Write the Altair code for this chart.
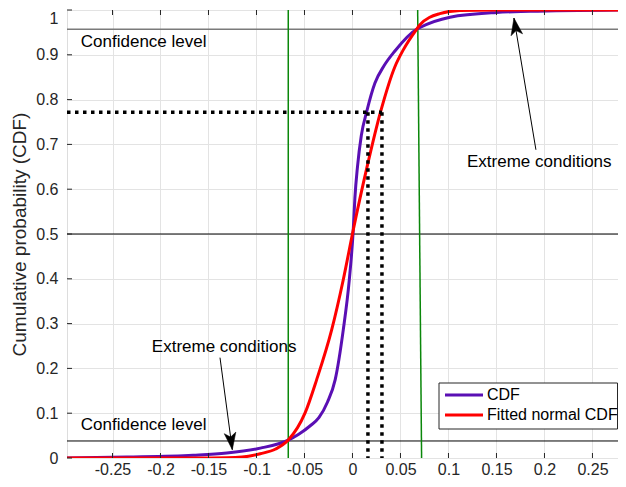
import altair as alt
import pandas as pd

# ---------------- data ----------------
X_DOMAIN = [-0.2974, 0.2766]
Y_DOMAIN = [0, 1]
x_ticks = [-0.25, -0.2, -0.15, -0.1, -0.05, 0, 0.05, 0.1, 0.15, 0.2, 0.25]
y_ticks = [0, 0.1, 0.2, 0.3, 0.4, 0.5, 0.6, 0.7, 0.8, 0.9, 1]

series_names = ["CDF", "Fitted normal CDF"]
series_colors = ["#5a0fb4", "#ff0000"]

cdf_x = [-0.2974, -0.235, -0.166, -0.131, -0.096, -0.0669, -0.056, -0.044, -0.035,
         -0.026, -0.018, -0.0096, -0.0033, 0.0008, 0.0025, 0.0052, 0.0092, 0.0148,
         0.0234, 0.033, 0.044, 0.0668, 0.0703, 0.1016, 0.150, 0.185, 0.2766]
cdf_y = [0.0, 0.002, 0.006, 0.011, 0.022, 0.040, 0.053, 0.072, 0.090,
         0.125, 0.175, 0.286, 0.398, 0.509, 0.580, 0.650, 0.720, 0.773,
         0.837, 0.876, 0.908, 0.957, 0.961, 0.984, 0.9946, 0.997, 1.0]

fit_x = [-0.2974, -0.16, -0.131, -0.115, -0.096, -0.08, -0.0669, -0.0495, -0.0373,
         -0.0217, -0.0096, 0.0008, 0.015, 0.0293, 0.0443, 0.0529, 0.0668, 0.0703,
         0.091, 0.112, 0.15, 0.2766]
fit_y = [0.0, 0.0, 0.0005, 0.002, 0.0096, 0.02, 0.040, 0.100, 0.175,
         0.286, 0.398, 0.509, 0.648, 0.773, 0.874, 0.911, 0.957, 0.967,
         0.992, 0.999, 1.0, 1.0]

conf_levels = [0.038]
conf_level_top = [0.957]
median_level = [0.5]
green_vertical_x = [-0.0669]
green_slant_x = [0.0679, 0.0720]
green_slant_y = [1.0, 0.0]
dotted_level = [0.772]
dotted_x = [0.0161, 0.0307]

ann_text = ["Confidence level", "Confidence level", "Extreme conditions", "Extreme conditions"]
ann_x = [-0.283, -0.283, 0.1193, -0.209]
ann_y = [0.929, 0.0733, 0.66, 0.2478]

arrow_x1 = [0.1911, -0.138]
arrow_y1 = [0.688, 0.224]
arrow_x2 = [0.1682, -0.1252]
arrow_y2 = [0.982, 0.0185]
arrow_angle = [350.3, 172.4]

# ---------------- chart ----------------
W, H = 551, 448
FONT = "Liberation Sans"
TXT = "#262626"

xs = alt.Scale(domain=X_DOMAIN, nice=False, zero=False)
ys = alt.Scale(domain=Y_DOMAIN, nice=False, zero=False)

x_axis = alt.Axis(values=x_ticks, labelExpr="'' + datum.value", grid=True, ticks=False,
                  domain=False, labelPadding=3, labelFontSize=16, labelColor=TXT,
                  labelFont=FONT, title=None, gridColor="#e3e3e3", labelFlush=False)
y_axis = alt.Axis(values=y_ticks, labelExpr="'' + datum.value", grid=True, ticks=False,
                  domain=False, labelPadding=9, labelFontSize=16, labelColor=TXT,
                  labelFont=FONT, gridColor="#e3e3e3", labelFlush=False,
                  labelBaseline={"condition": {"test": "datum.value >= 1", "value": "top"},
                                 "value": "middle"},
                  title="Cumulative probability (CDF)", titleFontSize=19,
                  titleFontWeight="normal", titleFont=FONT, titleColor=TXT,
                  titleX=-47.5, titleBaseline="middle")


def X(field):
    return alt.X(field, scale=xs, axis=x_axis)


def Y(field):
    return alt.Y(field, scale=ys, axis=y_axis)


curve_df = pd.DataFrame({
    "x": cdf_x + fit_x,
    "y": cdf_y + fit_y,
    "series": [series_names[0]] * len(cdf_x) + [series_names[1]] * len(fit_x),
})

curves = alt.Chart(curve_df).mark_line(strokeWidth=3, interpolate="monotone", clip=True).encode(
    x=X("x:Q"), y=Y("y:Q"),
    color=alt.Color("series:N", scale=alt.Scale(domain=series_names, range=series_colors), legend=None),
)

hrule_conf = alt.Chart(pd.DataFrame({"y": conf_levels})).mark_rule(color="#000000", strokeWidth=1).encode(
    y=Y("y:Q"))
hrule_conf_top = alt.Chart(pd.DataFrame({"y": conf_level_top})).mark_rule(color="#7a7a7a", strokeWidth=1.3).encode(
    y=Y("y:Q"))
hrule_med = alt.Chart(pd.DataFrame({"y": median_level})).mark_rule(color="#000000", strokeWidth=1).encode(
    y=Y("y:Q"))

green_v = alt.Chart(pd.DataFrame({"x": green_vertical_x})).mark_rule(color="#0a870a", strokeWidth=1.5).encode(
    x=X("x:Q"))
green_s = alt.Chart(pd.DataFrame({"x": green_slant_x, "y": green_slant_y})).mark_line(
    color="#0a870a", strokeWidth=1.5).encode(x=X("x:Q"), y=Y("y:Q"))

dot_h = alt.Chart(pd.DataFrame({"x1": [X_DOMAIN[0]], "x2": [dotted_x[1]], "y": dotted_level})).mark_rule(
    color="#000000", strokeWidth=3.5, strokeDash=[3.5, 4.5]).encode(
    x=X("x1:Q"), x2="x2:Q", y=Y("y:Q"))
dot_v = alt.Chart(pd.DataFrame({"x": dotted_x, "y1": [0.0, 0.0], "y2": dotted_level * 2})).mark_rule(
    color="#000000", strokeWidth=3.5, strokeDash=[3.5, 4.5]).encode(
    x=X("x:Q"), y=Y("y2:Q"), y2="y1:Q")

ann = alt.Chart(pd.DataFrame({"x": ann_x, "y": ann_y, "t": ann_text})).mark_text(
    align="left", baseline="middle", fontSize=17, font=FONT, color="#000000").encode(
    x=X("x:Q"), y=Y("y:Q"), text="t:N")

arrow_df = pd.DataFrame({"x1": arrow_x1, "y1": arrow_y1, "x2": arrow_x2, "y2": arrow_y2, "a": arrow_angle})
arrow_lines = alt.Chart(arrow_df).mark_rule(color="#000000", strokeWidth=1).encode(
    x=X("x1:Q"), y=Y("y1:Q"), x2="x2:Q", y2="y2:Q")
arrow_heads = alt.Chart(arrow_df).mark_point(
    shape="M0,0L0.55,1.6L0,1.2L-0.55,1.6Z", filled=True, fill="#000000", stroke="#000000",
    strokeWidth=0.5, opacity=1, size=450).encode(
    x=X("x2:Q"), y=Y("y2:Q"), angle=alt.Angle("a:Q", scale=None))

tick_df_x = pd.DataFrame({"t": x_ticks})
tick_df_y = pd.DataFrame({"t": y_ticks})
xt_bottom = alt.Chart(tick_df_x).mark_rule(color=TXT).encode(
    x=X("t:Q"), y=alt.value(H), y2=alt.value(H - 5))
xt_top = alt.Chart(tick_df_x).mark_rule(color=TXT).encode(
    x=X("t:Q"), y=alt.value(0), y2=alt.value(5))
yt_left = alt.Chart(tick_df_y).mark_rule(color=TXT).encode(
    y=Y("t:Q"), x=alt.value(0), x2=alt.value(5))

# legend (manual box)
one = pd.DataFrame({"k": [0]})
leg_box = alt.Chart(one).mark_rect(fill="#ffffff", stroke="#262626", strokeWidth=1).encode(
    x=alt.value(372), x2=alt.value(550.5), y=alt.value(373), y2=alt.value(419))
leg_line1 = alt.Chart(one).mark_rule(color=series_colors[0], strokeWidth=3).encode(
    x=alt.value(378), x2=alt.value(416), y=alt.value(385))
leg_line2 = alt.Chart(one).mark_rule(color=series_colors[1], strokeWidth=3).encode(
    x=alt.value(378), x2=alt.value(416), y=alt.value(405))
leg_t1 = alt.Chart(one).mark_text(
    text=series_names[0], align="left", baseline="middle", fontSize=16, font=FONT, color="#000000").encode(
    x=alt.value(420), y=alt.value(385))
leg_t2 = alt.Chart(one).mark_text(
    text=series_names[1], align="left", baseline="middle", fontSize=16, font=FONT, color="#000000").encode(
    x=alt.value(420), y=alt.value(405))

chart = alt.layer(
    hrule_conf_top, hrule_med, hrule_conf, green_v, green_s, curves, dot_h, dot_v,
    ann, arrow_lines, arrow_heads, xt_bottom, xt_top, yt_left,
    leg_box, leg_line1, leg_line2, leg_t1, leg_t2,
).properties(
    width=W, height=H,
    autosize=alt.AutoSizeParams(type="none"),
    padding={"left": 59, "top": 2, "right": 0, "bottom": 21},
).configure_view(
    stroke="#262626", strokeWidth=1
).configure_axis(
    labelFontSize=16, labelFont=FONT, labelColor=TXT
).configure(
    font=FONT, background="#ffffff"
)

chart.save("out.html", embed_options={"renderer": "svg", "actions": False})
